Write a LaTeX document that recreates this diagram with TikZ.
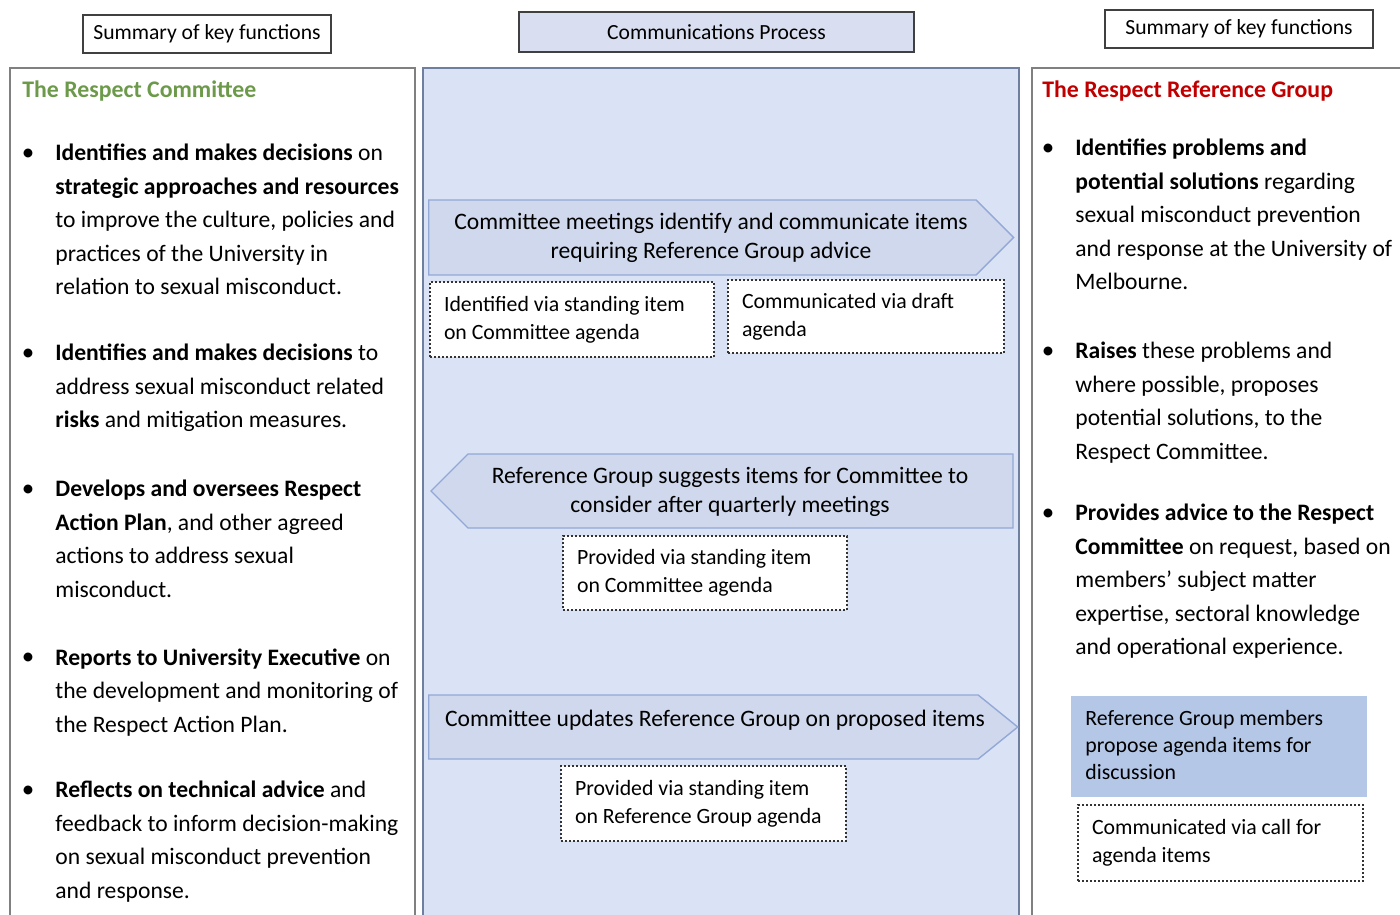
\documentclass[tikz,border=0pt]{standalone}
\usepackage{fontspec}
\setmainfont{Carlito}
\usepackage{xcolor}
\usetikzlibrary{shapes.symbols, positioning}

\definecolor{panelblue}{HTML}{DAE3F5}
\definecolor{panelline}{HTML}{6F7FA0}
\definecolor{arrowfill}{HTML}{CFD8EC}
\definecolor{arrowline}{HTML}{93A8D6}
\definecolor{headfill}{HTML}{D9DFF0}
\definecolor{membox}{HTML}{B4C7E7}
\definecolor{comgreen}{HTML}{6C9A4A}
\definecolor{refred}{HTML}{C00000}

\begin{document}
\begin{tikzpicture}[
    x=0.5pt, y=-0.5pt,
    header/.style={draw=black!75, line width=0.7pt, rectangle, minimum height=19pt, inner sep=0pt, font=\fontsize{10.8}{12}\selectfont},
    panel/.style={draw=black!50, line width=0.8pt, rectangle, anchor=north west, inner sep=0pt},
    title/.style={anchor=west, inner sep=0pt, font=\fontsize{11.9}{14}\selectfont\bfseries},
    point/.style={anchor=north west, inner sep=0pt, align=flush left, font=\fontsize{11.8}{16.75}\selectfont},
    dot/.style={anchor=center, inner sep=0pt, font=\fontsize{12.5}{14}\selectfont},
    flowarrow/.style={draw=arrowline, fill=arrowfill, line width=0.7pt, signal, signal from=nowhere, inner sep=0pt},
    arrowtext/.style={inner sep=0pt, align=center, font=\fontsize{11.8}{14.5}\selectfont},
    route/.style={draw=black!80, densely dotted, line width=1pt, fill=white, rectangle, anchor=north west, inner xsep=7pt, inner ysep=0pt, align=flush left, font=\fontsize{10.9}{14}\selectfont},
    members/.style={fill=membox, rectangle, anchor=north west, inner xsep=7pt, inner ysep=0pt, align=flush left, font=\fontsize{10.9}{13.5}\selectfont}
]
    \useasboundingbox (0,0) rectangle (1400,914);

    % Headers
    \node[header, minimum width=124pt] (lhead) at (207,34) {Summary of key functions};
    \node[header, fill=headfill, minimum width=197.5pt, minimum height=20pt] (mhead) at (716.5,32) {Communications Process};
    \node[header, minimum width=134pt] (rhead) at (1239,29) {Summary of key functions};

    % Panels
    \node[panel, minimum width=202.5pt, minimum height=440pt] (lpanel) at (9,67) {};
    \node[panel, draw=panelline, fill=panelblue, minimum width=298pt, minimum height=440pt] (mpanel) at (422,67) {};
    \node[panel, minimum width=200pt, minimum height=440pt] (rpanel) at (1031,67) {};

    % The Respect Committee
    \node[title, text=comgreen] (comtitle) at (22,91) {The Respect Committee};

    \node[dot] (lb1) at (28,155) {\textbullet};
    \node[point] (lp1) at (55,144) {\textbf{Identifies and makes decisions} on\\ \textbf{strategic approaches and resources}\\ to improve the culture, policies and\\ practices of the University in\\ relation to sexual misconduct.};
    \node[dot] (lb2) at (28,355) {\textbullet};
    \node[point] (lp2) at (55,344) {\textbf{Identifies and makes decisions} to\\ address sexual misconduct related\\ \textbf{risks} and mitigation measures.};
    \node[dot] (lb3) at (28,491) {\textbullet};
    \node[point] (lp3) at (55,480) {\textbf{Develops and oversees Respect}\\ \textbf{Action Plan}, and other agreed\\ actions to address sexual\\ misconduct.};
    \node[dot] (lb4) at (28,659) {\textbullet};
    \node[point] (lp4) at (55,648) {\textbf{Reports to University Executive} on\\ the development and monitoring of\\ the Respect Action Plan.};
    \node[dot] (lb5) at (28,792) {\textbullet};
    \node[point] (lp5) at (55,781) {\textbf{Reflects on technical advice} and\\ feedback to inform decision-making\\ on sexual misconduct prevention\\ and response.};

    % Communications Process
    \node[flowarrow, signal to=east, minimum width=292.5pt, minimum height=37.5pt, anchor=west] (identify) at (428,237.5) {};
    \node[arrowtext] (identifytxt) at (711,238) {Committee meetings identify and communicate items\\ requiring Reference Group advice};
    \node[route, minimum width=142pt, minimum height=37.5pt, text width=128pt] (ident) at (429,281) {Identified via standing item\\ on Committee agenda};
    \node[route, minimum width=138pt, minimum height=36.5pt, text width=124pt] (draft) at (727,279) {Communicated via draft\\ agenda};

    \node[flowarrow, signal to=west, minimum width=291pt, minimum height=37pt, anchor=west] (suggest) at (430,491) {};
    \node[arrowtext] (suggesttxt) at (730,492) {Reference Group suggests items for Committee to\\ consider after quarterly meetings};
    \node[route, minimum width=142pt, minimum height=37pt, text width=128pt] (comitem) at (562,535) {Provided via standing item\\ on Committee agenda};

    \node[flowarrow, signal to=east, signal pointer angle=78, minimum width=294.5pt, minimum height=32pt, anchor=west] (update) at (428,727) {};
    \node[arrowtext] (updatetxt) at (715,720) {Committee updates Reference Group on proposed items};
    \node[route, minimum width=142.5pt, minimum height=37.5pt, text width=128.5pt] (refitem) at (560,765) {Provided via standing item\\ on Reference Group agenda};

    % The Respect Reference Group
    \node[title, text=refred] (reftitle) at (1042,91) {The Respect Reference Group};

    \node[dot] (rb1) at (1048,150) {\textbullet};
    \node[point] (rp1) at (1075,139) {\textbf{Identifies problems and}\\ \textbf{potential solutions} regarding\\ sexual misconduct prevention\\ and response at the University of\\ Melbourne.};
    \node[dot] (rb2) at (1048,353) {\textbullet};
    \node[point] (rp2) at (1075,342) {\textbf{Raises} these problems and\\ where possible, proposes\\ potential solutions, to the\\ Respect Committee.};
    \node[dot] (rb3) at (1048,515) {\textbullet};
    \node[point] (rp3) at (1075,504) {\textbf{Provides advice to the Respect}\\ \textbf{Committee} on request, based on\\ members' subject matter\\ expertise, sectoral knowledge\\ and operational experience.};

    \node[members, minimum width=148pt, minimum height=50.5pt, text width=134pt] (propose) at (1071,696) {Reference Group members\\ propose agenda items for\\ discussion\vphantom{p}};
    \node[route, minimum width=142.5pt, minimum height=38pt, text width=128.5pt] (callfor) at (1077,804) {Communicated via call for\\ agenda items};

\end{tikzpicture}
\end{document}
